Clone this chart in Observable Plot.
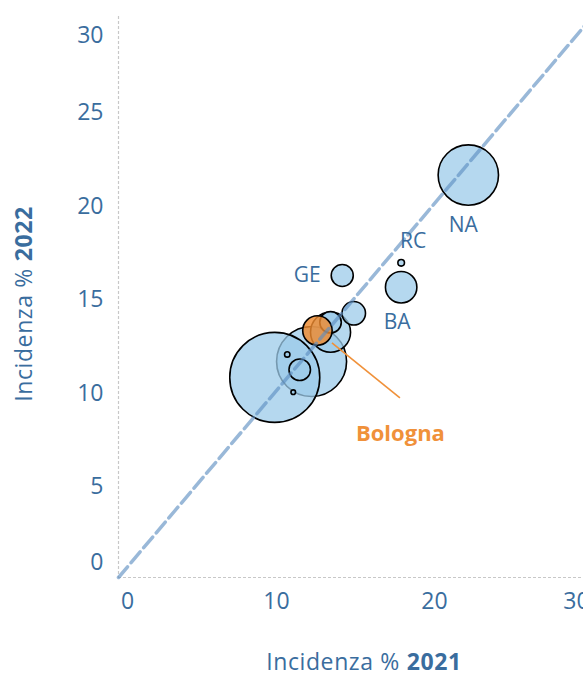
<!DOCTYPE html>
<html><head><meta charset="utf-8">
<script src="https://cdn.jsdelivr.net/npm/d3@7"></script>
<script src="https://cdn.jsdelivr.net/npm/@observablehq/plot@0.6"></script>
<style>body{margin:0;background:#fff} #chart svg{display:block}</style>
</head><body><div id="chart"></div>
<script>
// Incidenza % per città (ordine di disegno)
const etichette = ["", "", "", "", "", "", "", "", "GE", "BA", "RC", "NA", "Bologna"];
const inc2021   = [12.22, 9.89, 13.42, 13.42, 14.89, 11.47, 10.68, 11.06, 14.16, 17.89, 17.89, 22.14, 12.59];
const inc2022   = [11.55, 10.70, 13.12, 13.65, 14.13, 11.11, 11.93, 9.91, 16.15, 15.52, 16.83, 21.52, 13.21];
const dimensione = [605, 1000, 198, 57, 68, 57, 3.6, 2.6, 60, 122, 5.4, 450, 107];
const evidenziata = "Bologna";
const tickX = [0, 10, 20, 30];
const tickY = [0, 5, 10, 15, 20, 25, 30];
const diagonale = [0, 30];
const titoloX = ["Incidenza %", "2021"];
const titoloY = ["Incidenza %", "2022"];

const dati = inc2021.map((x, i) => ({x, y: inc2022[i], s: dimensione[i], label: etichette[i]}));
const blu = "#3a6d9e";
const arancio = "#f0913a";
const fs = 23;

function lab(name, dx, dy) {
  return Plot.text(dati.filter(d => d.label === name), {x: "x", y: "y", text: "label", dx, dy, fill: blu, fontSize: 21});
}

const plot = Plot.plot({
  width: 583, height: 677,
  marginLeft: 118, marginRight: 0, marginTop: 16, marginBottom: 100,
  x: {domain: [0, 29.43], axis: null},
  y: {domain: [0, 30], axis: null},
  r: {domain: [0, 1000], range: [0, 45]},
  style: {fontFamily: "'Open Sans', sans-serif", color: blu, background: "white", overflow: "hidden"},
  marks: [
    Plot.ruleX([0], {stroke: "#c8c8c8", strokeDasharray: "3,2", strokeWidth: 1.2}),
    Plot.ruleY([0], {stroke: "#c8c8c8", strokeDasharray: "3,2", strokeWidth: 1.2}),
    Plot.dot(dati.filter(d => d.label !== evidenziata), {x: "x", y: "y", r: "s", sort: null, fill: "#9ccbe9", fillOpacity: 0.75, stroke: "black", strokeWidth: 1.6}),
    Plot.dot(dati.filter(d => d.label === evidenziata), {x: "x", y: "y", r: "s", sort: null, fill: "#ee8a2e", fillOpacity: 0.82, stroke: "black", strokeWidth: 1.6}),
    Plot.line(diagonale, {x: d => d, y: d => d, stroke: "#5b8cc0", strokeOpacity: 0.62, strokeWidth: 3.5, strokeDasharray: "14,5.5"}),
    // y tick labels
    Plot.text(tickY.filter(t => t > 0 && t < 30), {y: d => d, text: d => String(d), frameAnchor: "left", dx: -15, dy: 3, textAnchor: "end", fill: blu, fontSize: fs}),
    Plot.text(tickY.filter(t => t === 0), {y: d => d, text: d => String(d), frameAnchor: "left", dx: -15, dy: -15, textAnchor: "end", fill: blu, fontSize: fs}),
    Plot.text(tickY.filter(t => t === 30), {y: d => d, text: d => String(d), frameAnchor: "left", dx: -15, dy: 19, textAnchor: "end", fill: blu, fontSize: fs}),
    // x tick labels
    Plot.text(tickX.filter(t => t > 0 && t < 30), {x: d => d, text: d => String(d), frameAnchor: "bottom", dy: 31, fill: blu, fontSize: fs}),
    Plot.text(tickX.filter(t => t === 0), {x: d => d, text: d => String(d), frameAnchor: "bottom", dy: 31, dx: 9, fill: blu, fontSize: fs}),
    Plot.text(tickX.filter(t => t === 30), {x: d => d, text: d => String(d), frameAnchor: "bottom", dy: 31, dx: -16, fill: blu, fontSize: fs}),
    // bubble labels
    lab("GE", -35, 0),
    lab("RC", 12, -22),
    lab("BA", -4, 35),
    lab("NA", -5, 50),
    Plot.text(dati.filter(d => d.label === evidenziata), {x: "x", y: "y", text: "label", dx: 83, dy: 103, fill: arancio, fontWeight: "bold", fontSize: 22})
  ]
});

document.getElementById("chart").appendChild(plot);
const svg = d3.select(plot);

// leader line for Bologna
const sx = plot.scale("x"), sy = plot.scale("y");
const b = dati.find(d => d.label === evidenziata);
const bx = sx.apply(b.x), by = sy.apply(b.y);
svg.append("line")
  .attr("x1", bx + 15).attr("y1", by + 13)
  .attr("x2", bx + 83).attr("y2", by + 68)
  .attr("stroke", arancio).attr("stroke-width", 1.6);

// axis titles: regular part + bold part, measured and centred
function titolo(parts, transform) {
  const g = svg.append("g").attr("transform", transform).attr("text-anchor", "start");
  const common = t => t.attr("fill", blu).attr("text-anchor", "start").style("font-size", fs + "px").style("letter-spacing", "0.6px").attr("y", 0);
  const a = common(g.append("text")).text(parts[0]);
  const c = common(g.append("text")).attr("font-weight", "bold").text(parts[1]);
  const gap = 7;
  const wa = a.node().getComputedTextLength(), wc = c.node().getComputedTextLength();
  const start = -(wa + gap + wc) / 2;
  a.attr("x", start);
  c.attr("x", start + wa + gap);
}
titolo(titoloX, "translate(364,670)");
titolo(titoloY, "translate(32,304) rotate(-90)");
</script>
</body></html>
